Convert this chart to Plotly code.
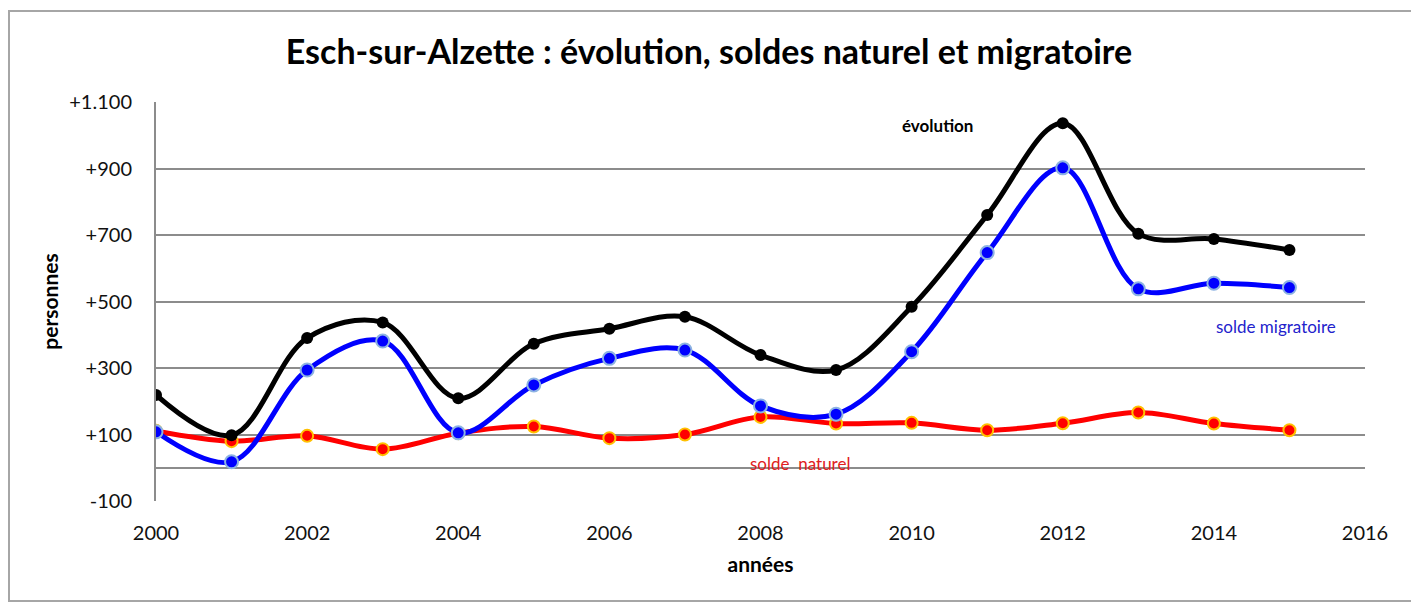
import plotly.graph_objects as go

# données (personnes par an)
annees = [2000, 2001, 2002, 2003, 2004, 2005, 2006, 2007,
          2008, 2009, 2010, 2011, 2012, 2013, 2014, 2015]
solde_naturel = [111, 80, 96, 56, 104, 124, 89, 100, 153, 133, 135, 113, 134, 166, 133, 113]
solde_migratoire = [108, 18, 294, 381, 105, 249, 329, 354, 186, 161, 349, 647, 902, 538, 555, 542]
evolution = [219, 98, 390, 437, 209, 373, 418, 454, 339, 294, 484, 760, 1036, 704, 688, 655]

y_tickvals = [-100, 100, 300, 500, 700, 900, 1100]
y_ticktext = ["-100", "+100", "+300", "+500", "+700", "+900", "+1.100"]
x_tickvals = [2000, 2002, 2004, 2006, 2008, 2010, 2012, 2014, 2016]

# la page ajoute 8 px de marge : la figure couvre donc 1411 x 595
OFF = 8
W, H = 1419 - OFF, 603 - OFF
L, T = 156 - OFF, 102 - OFF
R = W - (1365 - OFF)
B = H - (501 - OFF)
FONT = "Lato, Calibri, Carlito, sans-serif"
GRID = "#8c8c8c"


def px_x(px):
    return (px - OFF - L) / (W - L - R)


def px_y(py):
    return (H - B - (py - OFF)) / (H - T - B)


fig = go.Figure()

fig.add_trace(go.Scatter(
    x=annees, y=solde_naturel, name="solde naturel", mode="lines+markers",
    line=dict(color="#ff0000", width=5, shape="spline", smoothing=1),
    marker=dict(color="#ff0000", size=12, line=dict(color="#ffc000", width=2)),
))
fig.add_trace(go.Scatter(
    x=annees, y=solde_migratoire, name="solde migratoire", mode="lines+markers",
    line=dict(color="#0000ff", width=5, shape="spline", smoothing=1),
    marker=dict(color="#0000ff", size=13, line=dict(color="#8db3e2", width=2)),
))
fig.add_trace(go.Scatter(
    x=annees, y=evolution, name="évolution", mode="lines+markers",
    line=dict(color="#000000", width=5, shape="spline", smoothing=1),
    marker=dict(color="#000000", size=12),
))

fig.add_annotation(x=2010.34, y=1028, text="<b>évolution</b>", showarrow=False,
                   font=dict(family=FONT, size=17, color="#000000"))
fig.add_annotation(x=2014.82, y=426, text="solde migratoire", showarrow=False,
                   font=dict(family=FONT, size=17, color="#2222cc"))
fig.add_annotation(x=2008.52, y=14, text="solde  naturel", showarrow=False,
                   font=dict(family=FONT, size=17, color="#e02020"))

# cadre du graphique
frame = dict(color="#a6a6a6", width=2)
fig.add_shape(type="rect", xref="paper", yref="paper", layer="below",
              x0=px_x(9), x1=px_x(1413), y0=px_y(601), y1=px_y(11), line=frame)

fig.update_layout(
    width=W, height=H, autosize=False,
    margin=dict(l=L, r=R, t=T, b=B),
    paper_bgcolor="white", plot_bgcolor="white",
    showlegend=False,
    title=dict(text="<b>Esch-sur-Alzette : évolution, soldes naturel et migratoire</b>",
               x=(709 - OFF) / W, xref="container", xanchor="center",
               y=1 - (52 - OFF) / H, yref="container", yanchor="middle",
               font=dict(family=FONT, size=34, color="#000000")),
)
fig.update_xaxes(
    range=[2000, 2016], tickvals=x_tickvals, showgrid=False, zeroline=False,
    showline=False, ticks="", ticklabelstandoff=18,
    tickfont=dict(family=FONT, size=20, color="#111111"),
    title=dict(text="<b>années</b>", font=dict(family=FONT, size=21, color="#000000"), standoff=14),
)
fig.update_yaxes(
    range=[-100, 1100], tickvals=y_tickvals, ticktext=y_ticktext,
    showgrid=True, gridcolor=GRID, gridwidth=2,
    zeroline=True, zerolinecolor=GRID, zerolinewidth=2,
    showline=True, linecolor=GRID, linewidth=2, ticks="", ticklabelstandoff=18,
    tickfont=dict(family=FONT, size=20, color="#111111"),
    title=dict(text="<b>personnes</b>", font=dict(family=FONT, size=21, color="#000000"), standoff=5),
)

fig.write_html("out.html")
